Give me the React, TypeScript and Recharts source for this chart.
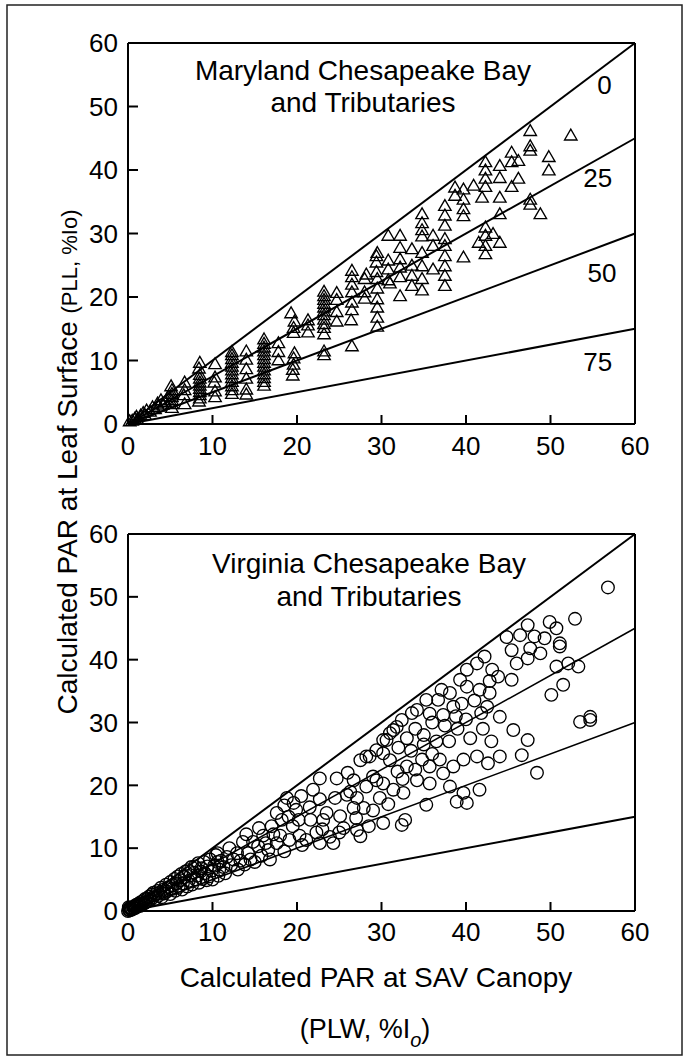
import { ScatterChart, Scatter, XAxis, YAxis, ReferenceLine } from 'recharts';

const FONT = '"Liberation Sans", Arial, Helvetica, sans-serif';

const TICKS = [0, 10, 20, 30, 40, 50, 60];
// light-reduction lines: 0, 25, 50 and 75 % (PLL = slope * PLW)
const SLOPES = [1, 0.75, 0.5, 0.25];
const LINE_LABELS = ['0', '25', '50', '75'];
const LABEL_X = [56.4, 55.6, 56.1, 55.6];
const LABEL_Y = [53.4, 38.7, 23.8, 9.8];

// Maryland (triangles), [PLW, PLL]
const mdPoints = [
  [0.2, 0.3], [0.5, 0.4], [0.8, 0.7], [1, 1], [1.1, 0.6], [1.5, 1.2], [1.8, 1.6], [2, 1.3], [2.2, 2],
  [2.6, 1.8], [2.9, 2.5], [3.2, 2.2], [3.5, 3.1], [3.6, 2.6], [3.9, 3.6], [4.1, 2.9], [4.4, 3.3], [4.8, 4.2],
  [5.2, 2.4], [5.2, 3], [5.2, 3.6], [5.2, 4.1], [5.2, 4.6], [5.2, 5.2], [5.1, 5.8],
  [6.7, 3], [6.6, 4.4], [6.7, 5.2], [6.7, 6.4],
  [8.4, 3.4], [8.5, 3.9], [8.5, 4.4], [8.5, 4.9], [8.5, 5.4], [8.5, 5.9], [8.5, 6.4], [8.5, 7], [8.5, 7.6],
  [8.4, 8.6], [8.5, 9.5],
  [10.3, 4.1], [10.3, 5], [10.2, 6.4], [10.3, 7.2], [10.3, 9.3],
  [12.3, 4.6], [12.3, 5.2], [12.3, 5.8], [12.3, 6.5], [12.3, 7.1], [12.3, 7.7], [12.3, 8.3], [12.3, 8.9],
  [12.3, 9.5], [12.3, 10.1], [12.3, 10.7], [12.3, 11.2],
  [14, 4.5], [14, 5.3], [14, 7], [14, 8.5], [14, 10], [14, 11.3],
  [16.1, 5.9], [16.1, 6.5], [16.1, 7.1], [16.1, 7.7], [16.1, 8.3], [16.1, 8.9], [16.1, 9.5], [16.1, 10.1],
  [16.1, 10.7], [16.1, 11.3], [16.1, 11.9], [16.1, 12.5], [16.1, 13.2],
  [17.8, 9.9], [17.8, 11.2], [17.8, 12.6],
  [19.5, 7.5], [19.5, 8.4], [19.6, 9.2], [19.6, 10.2], [19.7, 11], [19.6, 14.2], [19.6, 15], [19.7, 16], [19.3, 17.3],
  [21.3, 14.3], [21.3, 15.4], [21.3, 16.2],
  [23.2, 10.7], [23.2, 11.3], [23.2, 14], [23.2, 15], [23.2, 15.6], [23.2, 16.3], [23.2, 17], [23.2, 17.6],
  [23.2, 18.2], [23.2, 18.8], [23.2, 19.4], [23.2, 20], [23.2, 20.7],
  [24.7, 16], [24.7, 17.5], [24.7, 19.4], [24.7, 20.5],
  [26.5, 12.1], [26.4, 16.2], [26.5, 17.8], [26.5, 19], [26.5, 20.6], [26.5, 21.8], [26.5, 23], [26.5, 24],
  [28, 19.6], [28, 20.6], [28, 22.7], [28.2, 23.4],
  [29.5, 15.2], [29.5, 16.6], [29.5, 18.2], [29.5, 19.5], [29.5, 21.2], [29.5, 22.7], [29.4, 23.8], [29.4, 25.3],
  [29.4, 26.3], [29.5, 26.8],
  [30.8, 22.5], [30.8, 24.2], [30.8, 25.6], [30.8, 29.5], [31, 22],
  [32.2, 20], [32.2, 23], [32.2, 24.5], [32.2, 25.8], [32.2, 27.6], [32.2, 29.5],
  [33.6, 21.6], [33.6, 23.2], [33.6, 24.8], [33.6, 27.4],
  [34.8, 20.9], [34.8, 22.7], [34.8, 24.7], [34.8, 26.8], [34.8, 29.4], [34.8, 30.4], [34.8, 31.5], [34.8, 32.9],
  [36.1, 24.2], [36.1, 27.9], [36.1, 29.5],
  [37.5, 21.6], [37.5, 23.2], [37.5, 24.7], [37.5, 26.3], [37.5, 27.9], [37.5, 29], [37.5, 31.1], [37.5, 32.7], [37.5, 34.2],
  [38.7, 35.8], [38.7, 37.1],
  [39.7, 26.1], [39.7, 32.6], [39.7, 33.7], [39.7, 35.2], [39.7, 36.8],
  [40.9, 37.4], [41.5, 28.4], [41.9, 35.5],
  [42.3, 26.6], [42.3, 27.9], [42.3, 29.5], [42.3, 30.8], [42.3, 37.2], [42.3, 38.5], [42.3, 39.8], [42.3, 41.1],
  [43.2, 29.8],
  [44, 28.4], [44, 32.9], [44, 35.5], [44, 38.6], [44, 40.5],
  [45.4, 37.2], [45.4, 41.1], [45.4, 42.6],
  [46.2, 38.5], [46.2, 41.3],
  [47.6, 34.4], [47.6, 35.2], [47.6, 42.9], [47.6, 43.6], [47.6, 46],
  [48.8, 32.9], [49.8, 39.8], [49.8, 41.9], [52.4, 45.3],
];

// Virginia (circles), [PLW, PLL]
const vaPoints = [
  [0, 0], [0.1, 0.2], [0.2, 0.1], [0.3, 0.4], [0.4, 0.2], [0.2, 0.5], [0.5, 0.3], [0.6, 0.6], [0.1, 0.6], [0.7, 0.4],
  [0.8, 0.8], [0.9, 0.5], [1, 1], [1.1, 0.7], [1.2, 0.9], [1.3, 1.2], [1.4, 0.8], [1.5, 1.4], [1.6, 1.1], [1.8, 1.6],
  [1.9, 1.2], [2, 1.9], [2.1, 1.4], [2.3, 2], [2.4, 1.6], [2.5, 2.3], [2.7, 1.8], [2.8, 2.6], [3, 2.2], [3, 2.9],
  [3.2, 1.9], [3.3, 2.7], [3.5, 3.2], [3.6, 2.4], [3.8, 3], [3.9, 3.7], [4, 2.2], [4.2, 3.4], [4.3, 2.8], [4.5, 4.2],
  [4.6, 3.1], [4.8, 3.8], [5, 2.7], [5, 4.6], [5.2, 3.5], [5.3, 4.1], [5.5, 5.1], [5.6, 3.2], [5.8, 4.4], [5.9, 5.5],
  [6, 3.8], [6.2, 4.9], [6.3, 5.9], [6.4, 3.4], [6.5, 4.4], [6.7, 5.4], [6.8, 6.3], [7, 3.9], [7.1, 6.5], [7.2, 4.8],
  [7.4, 5.7], [7.5, 7], [7.6, 4.2], [7.8, 6.1], [7.9, 7.1], [8, 5], [8.2, 5.6], [8.3, 7.6], [8.4, 4.5], [8.6, 6.3],
  [8.7, 6.8], [8.8, 5.1], [9, 7.8], [9.1, 6], [9.3, 4.9], [9.4, 7.1], [9.6, 5.5], [9.7, 8.2], [9.9, 6.4], [10, 5],
  [10.2, 7.2], [10.4, 8.9], [10.6, 9.2], [10.6, 7.8], [10.7, 5.6], [10.8, 6.6], [11, 8], [11.3, 7], [11.5, 6], [11.7, 8.6],
  [12, 10], [12.2, 7.3], [12.5, 8.2], [12.9, 9.2], [13, 6.6], [13.3, 8], [13.6, 11], [13.8, 7.4], [14, 12.2], [14.2, 9.2],
  [14.5, 8.2], [14.8, 11], [15, 7.8], [15.4, 10.3], [15.5, 13.2], [15.8, 8.8], [16, 12], [16.3, 10.8], [16.6, 9.7], [16.8, 8.2],
  [17, 13.5], [17.2, 12.2], [17.6, 10.8], [17.6, 15.6], [18, 12], [18.2, 14.5], [18.5, 9.5], [18.5, 16.8], [18.8, 18], [19, 15],
  [19.1, 11.3], [19.5, 13.5], [19.6, 17.2], [19.9, 16.1], [20.2, 14.5], [20.3, 12], [20.5, 18.3], [20.6, 10.5], [21.1, 11.3],
  [21.5, 16.5], [21.6, 14.5], [21.9, 19.3], [22.3, 12.5], [22.7, 21.1], [22.7, 17.8], [22.7, 10.8], [23, 13], [23.1, 14.5],
  [23.5, 15.6], [23.9, 11.8], [24.3, 10.8], [24.5, 18], [24.7, 21.1], [25, 12.5], [25.1, 15.1], [25.5, 13.2], [25.9, 18.5],
  [26, 22], [26.3, 19], [26.7, 20.8], [26.7, 16.4], [27, 14.8], [27.1, 18], [27.1, 12.9], [27.5, 24], [27.5, 11.9], [27.9, 16.4],
  [28.2, 24.6], [28.2, 19.8], [28.5, 13.5], [28.6, 24.6], [29, 21.4], [29, 16], [29.4, 25.6], [29.4, 20.8], [29.8, 18],
  [30.2, 27.2], [30.2, 20.3], [30.2, 25.1], [30.2, 14], [30.6, 27.2], [30.8, 17], [31, 28.3], [31, 24], [31.4, 28.8],
  [31.4, 19.3], [31.8, 29.3], [31.9, 22.2], [32, 26], [32.4, 30.4], [32.4, 13.7], [32.5, 21], [32.6, 18.8], [32.8, 14.5],
  [33, 23], [33, 27.5], [33.5, 25.5], [33.6, 31.5], [34, 29], [34, 22.5], [34.2, 32], [34.2, 20.8], [34.8, 24.1], [35, 28],
  [35, 26.5], [35.3, 33.6], [35.3, 16.9], [35.7, 31.4], [35.7, 23], [35.7, 20.3], [36, 30], [36, 25], [36.5, 27], [36.7, 33.6],
  [36.9, 24.1], [37.1, 35.2], [37.3, 31.2], [37.3, 21.9], [37.5, 29.5], [38, 27], [38.1, 34.7], [38.1, 19.8], [38.5, 23],
  [38.5, 32.5], [38.8, 31], [38.9, 17.4], [39, 29], [39.3, 36.8], [39.5, 33], [39.7, 24.1], [39.7, 18.8], [40, 30.5],
  [40.1, 38.4], [40.1, 35.7], [40.1, 17.2], [40.5, 27.5], [41, 33.5], [41.3, 39.4], [41.3, 24.6], [41.6, 35.2], [41.6, 19.3],
  [41.8, 31.5], [42, 29], [42.2, 40.5], [42.5, 32.5], [42.6, 23.5], [42.8, 36.6], [42.8, 34.7], [43, 27], [43.1, 38.4],
  [43.8, 37.3], [44, 30.9], [44, 24.6], [44.8, 43.6], [45.4, 41.5], [45.4, 36.8], [45.6, 28.8], [46, 39.4], [46.4, 43.9],
  [46.6, 24.8], [47.3, 45.5], [47.3, 27.2], [47.3, 40.2], [47.6, 41.8], [48.1, 43.7], [48.4, 22], [48.8, 41], [49.3, 43.4],
  [49.9, 46], [50.1, 34.4], [50.7, 45], [50.7, 38.9], [51.1, 42.6], [51.1, 42.1], [51.5, 36], [52.1, 39.4], [52.9, 46.5],
  [53.3, 38.9], [53.5, 30.1], [54.7, 30.9], [54.7, 30.4], [56.8, 51.5],
];

const toRows = (pts: number[][]) => pts.map(([x, y]) => ({ x, y }));
const labelRows = LINE_LABELS.map((t, i) => ({ x: LABEL_X[i], y: LABEL_Y[i], t }));

const renderLabel = (p: any) => (
  <text x={p.cx} y={p.cy} textAnchor="middle" dominantBaseline="central" fontSize={26} fontFamily={FONT} fill="#000">
    {p.payload.t}
  </text>
);

// hollow triangle, side ~12.5px, centred on its centroid
const renderTriangle = (p: any) => {
  const s = 12.5;
  const h = (s * Math.sqrt(3)) / 2;
  const { cx, cy } = p;
  const d = `M${cx},${cy - (2 * h) / 3}L${cx + s / 2},${cy + h / 3}L${cx - s / 2},${cy + h / 3}Z`;
  return <path d={d} fill="none" stroke="#000" strokeWidth={1.35} />;
};

const renderCircle = (p: any) => <circle cx={p.cx} cy={p.cy} r={6.3} fill="none" stroke="#000" strokeWidth={1.35} />;

type PanelProps = {
  points: number[][];
  shape: (p: any) => any;
  widths: number[];
  showLabels: boolean;
  top: number;
  marginTop: number;
  marginBottom: number;
  xTickMargin: number;
};

function Panel({ points, shape, widths, showLabels, top, marginTop, marginBottom, xTickMargin }: PanelProps) {
  const tick = { fill: '#000', fontSize: 26, fontFamily: FONT };
  const axisStroke = { stroke: '#000', strokeWidth: 2 };
  return (
    <div style={{ position: 'absolute', left: 0, top }}>
      <ScatterChart width={683} height={470} margin={{ top: marginTop, right: 48, bottom: marginBottom, left: 0 }}>
        <XAxis
          type="number"
          dataKey="x"
          domain={[0, 60]}
          ticks={TICKS}
          interval={0}
          height={40}
          axisLine={axisStroke}
          tickLine={axisStroke}
          tickSize={-9}
          tickMargin={xTickMargin}
          tick={tick}
        />
        <YAxis
          type="number"
          dataKey="y"
          domain={[0, 60]}
          ticks={TICKS}
          interval={0}
          width={128}
          axisLine={axisStroke}
          tickLine={axisStroke}
          tickSize={-10}
          tickMargin={20}
          tick={tick}
        />
        <ReferenceLine y={60} stroke="#000" strokeWidth={2} />
        <ReferenceLine x={60} stroke="#000" strokeWidth={2} />
        {SLOPES.map((s, i) => (
          <ReferenceLine
            key={s}
            segment={[{ x: 0, y: 0 }, { x: 60, y: 60 * s }]}
            stroke="#000"
            strokeWidth={widths[i]}
          />
        ))}
        <Scatter data={toRows(points)} shape={shape} isAnimationActive={false} />
        {showLabels && <Scatter data={labelRows} shape={renderLabel} isAnimationActive={false} />}
      </ScatterChart>
    </div>
  );
}

export default function App() {
  return (
    <div style={{ position: 'relative', width: 683, height: 1061, background: '#fff' }}>
      <style>{'body{margin:0}'}</style>
      <Panel
        points={mdPoints}
        shape={renderTriangle}
        widths={[2, 2, 2, 2]}
        showLabels
        top={0}
        marginTop={43}
        marginBottom={6}
        xTickMargin={22}
      />
      <Panel
        points={vaPoints}
        shape={renderCircle}
        widths={[2, 1.5, 1.5, 2]}
        showLabels={false}
        top={490}
        marginTop={44}
        marginBottom={9}
        xTickMargin={21}
      />
      <svg
        width={683}
        height={1061}
        style={{ position: 'absolute', left: 0, top: 0, pointerEvents: 'none' }}
        fontFamily={FONT}
        fill="#000"
      >
        <rect x={7} y={5} width={675} height={1050} fill="none" stroke="#222" strokeWidth={1.5} />
        <text x={363} y={80} fontSize={28} textAnchor="middle">Maryland Chesapeake Bay</text>
        <text x={363} y={112} fontSize={28} textAnchor="middle">and Tributaries</text>
        <text x={369} y={573} fontSize={28} textAnchor="middle">Virginia Chesapeake Bay</text>
        <text x={369} y={606} fontSize={28} textAnchor="middle">and Tributaries</text>
        <text x={77} y={462} fontSize={28} textAnchor="middle" transform="rotate(-90 77 462)">
          Calculated PAR at Leaf Surface <tspan fontSize={22}>(PLL, %Io)</tspan>
        </text>
        <text x={376} y={987} fontSize={28} textAnchor="middle">Calculated PAR at SAV Canopy</text>
        <text x={365} y={1038} fontSize={27} textAnchor="middle">
          (PLW, %I<tspan fontSize={20} fontStyle="italic" dy={9}>o</tspan>
          <tspan dy={-9}>)</tspan>
        </text>
      </svg>
    </div>
  );
}
